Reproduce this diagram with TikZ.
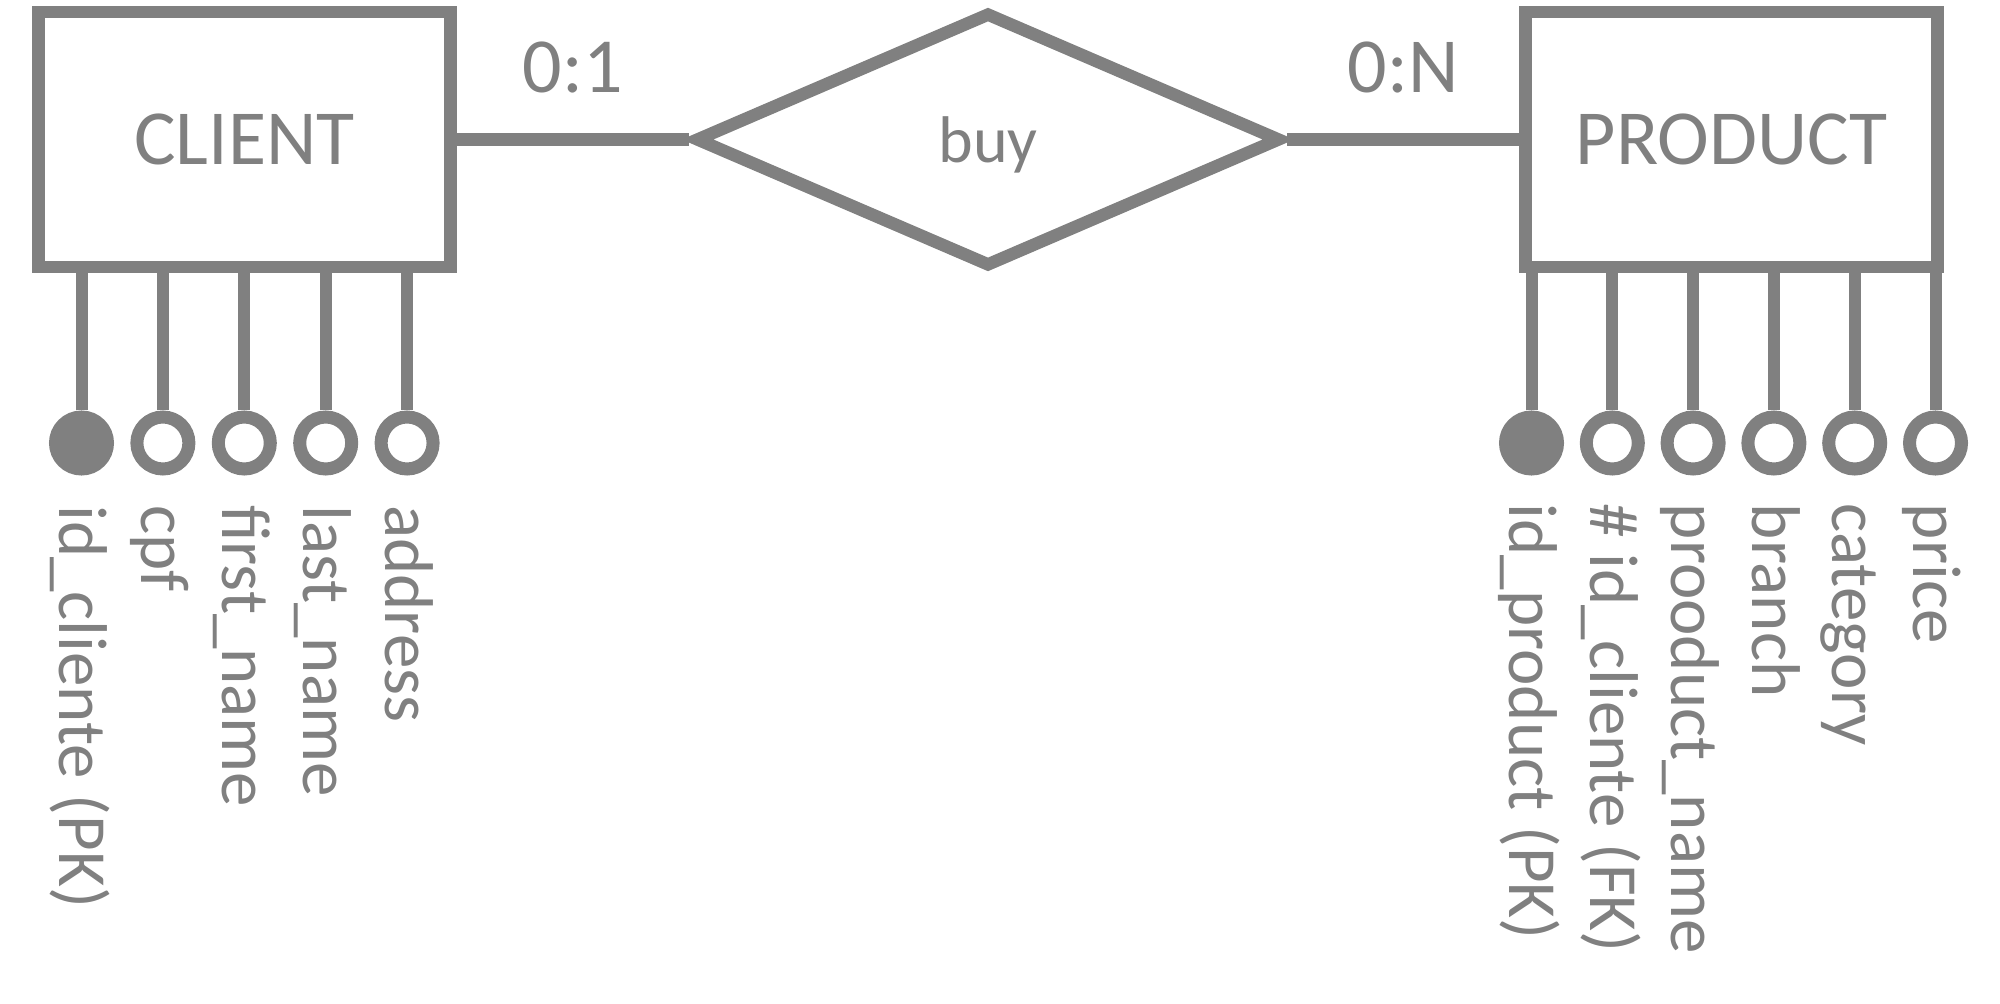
\documentclass[tikz,border=0pt]{standalone}
\usepackage{fontspec}
\setmainfont{Carlito}
\usetikzlibrary{shapes.geometric, positioning}
\definecolor{ergray}{RGB}{128,128,128}
\tikzset{
  every node/.style={text=ergray}, % all texts in the same grey as the lines
  node distance=371.75pt, % centre to centre, entity to relation
  entity/.style={draw=ergray, line width=6.25pt, minimum width=206pt, minimum height=127.5pt, font=\fontsize{39}{40}\selectfont},
  relation/.style={diamond, draw=ergray, line width=6.25pt, minimum width=293pt, minimum height=127.5pt, inner sep=0pt, aspect=2.3, text depth=0pt, font=\fontsize{33}{34}\selectfont},
  card/.style={above=20pt, inner sep=0pt, font=\fontsize{39}{40}\selectfont}, % cardinality over the link
  attr/.style={circle, draw=ergray, line width=6.5pt, minimum size=26pt, inner sep=0pt, fill=white}, % plain attribute
  keyattr/.style={attr, fill=ergray}, % primary key
  attrlabel/.style={rotate=-90, anchor=mid west, inner sep=0pt, font=\fontsize{34.5}{35}\selectfont},
  attrline/.style={draw=ergray, line width=6pt},
}

\begin{document}
\begin{tikzpicture}
    \useasboundingbox (0,0) rectangle (1000pt,-502pt);
    \node[entity] (client) at (122.25pt,-69.75pt) {CLIENT};
    \node[relation, right of=client] (buy) {buy};
    \node[entity, right of=buy] (product) {PRODUCT};
    \draw[ergray, line width=6.25pt]
      (client) edge node[card]{0:1} (buy)
      (buy) edge node[card]{0:N} (product);

    % client attributes
    \node[keyattr, node distance=151.75pt, below of=client, xshift=-81.5pt] (ca1) {};
    \node[attr, node distance=40.7pt, right of=ca1] (ca2) {};
    \node[attr, node distance=40.7pt, right of=ca2] (ca3) {};
    \node[attr, node distance=40.7pt, right of=ca3] (ca4) {};
    \node[attr, node distance=40.7pt, right of=ca4] (ca5) {};
    \node[attrlabel] (la1) at ([xshift=-8.5pt, yshift=-14.75pt]ca1.south) {id\_cliente (PK)};
    \node[attrlabel] (la2) at ([xshift=-8.5pt, yshift=-14.75pt]ca2.south) {cpf};
    \node[attrlabel] (la3) at ([xshift=-8.5pt, yshift=-14.75pt]ca3.south) {first\_name};
    \node[attrlabel] (la4) at ([xshift=-8.5pt, yshift=-14.75pt]ca4.south) {last\_name};
    \node[attrlabel] (la5) at ([xshift=-8.5pt, yshift=-14.75pt]ca5.south) {address};
    \draw[attrline]
      (ca1) -- (ca1 |- client.south)
      (ca2) -- (ca2 |- client.south)
      (ca3) -- (ca3 |- client.south)
      (ca4) -- (ca4 |- client.south)
      (ca5) -- (ca5 |- client.south);

    % product attributes
    \node[keyattr, node distance=151.75pt, below of=product, xshift=-100pt] (pa1) {};
    \node[attr, node distance=40.4pt, right of=pa1] (pa2) {};
    \node[attr, node distance=40.4pt, right of=pa2] (pa3) {};
    \node[attr, node distance=40.4pt, right of=pa3] (pa4) {};
    \node[attr, node distance=40.4pt, right of=pa4] (pa5) {};
    \node[attr, node distance=40.4pt, right of=pa5] (pa6) {};
    \node[attrlabel] (lp1) at ([xshift=-8.5pt, yshift=-14pt]pa1.south) {id\_product (PK)};
    \node[attrlabel] (lp2) at ([xshift=-8.5pt, yshift=-14pt]pa2.south) {\# id\_cliente (FK)};
    \node[attrlabel] (lp3) at ([xshift=-8.5pt, yshift=-14pt]pa3.south) {prooduct\_name};
    \node[attrlabel] (lp4) at ([xshift=-8.5pt, yshift=-14pt]pa4.south) {branch};
    \node[attrlabel] (lp5) at ([xshift=-8.5pt, yshift=-14pt]pa5.south) {category};
    \node[attrlabel] (lp6) at ([xshift=-8.5pt, yshift=-14pt]pa6.south) {price};
    \draw[attrline]
      (pa1) -- (pa1 |- product.south)
      (pa2) -- (pa2 |- product.south)
      (pa3) -- (pa3 |- product.south)
      (pa4) -- (pa4 |- product.south)
      (pa5) -- (pa5 |- product.south)
      (pa6) -- (pa6 |- product.south);
\end{tikzpicture}
\end{document}
